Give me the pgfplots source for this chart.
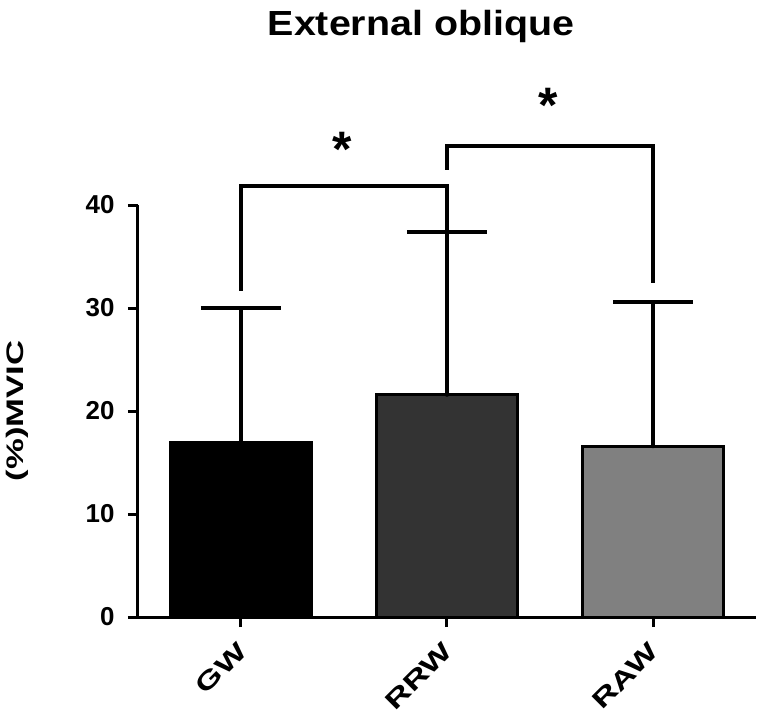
\documentclass[border=0pt]{standalone}
\usepackage{fontspec}
\setmainfont{Liberation Sans}
\newfontfamily\tickfont{Liberation Sans Bold}
\newfontfamily\wideA[FakeStretch=1.4]{Liberation Sans Bold}
\newfontfamily\wideB[FakeStretch=1.45]{Liberation Sans Bold}
\newfontfamily\titlefont[FakeStretch=1.13]{Liberation Sans Bold}
\usepackage{pgfplots}
\pgfplotsset{compat=1.18}
\begin{document}
\begin{tikzpicture}
\begin{axis}[
  scale only axis, width=618bp, height=412bp,
  xmin=-0.5, xmax=2.5, ymin=0, ymax=40,
  axis lines=left, axis line style={-, line width=3bp},
  xtick={0,1,2}, xticklabels={GW,RRW,RAW},
  ytick={0,10,20,30,40},
  tick align=outside, major tick length=10bp,
  tick style={line width=3bp, black},
  xticklabel style={font=\wideA\fontsize{25}{28}\selectfont, rotate=45, anchor=north east, yshift=-3bp, xshift=-10bp},
  yticklabel style={font=\tickfont\fontsize{26}{28}\selectfont, xshift=-10bp},
  /pgf/number format/assume math mode=true,
  clip=false,
]
\path (rel axis cs:-0.2233,-0.2621) rectangle (rel axis cs:1.0081,1.4976);
\addplot[ybar, bar width=0.68, bar shift=0pt, fill=black, draw=black, line width=3bp]
  coordinates {(0,16.9)};
\addplot[ybar, bar width=0.68, bar shift=0pt, fill=black!80, draw=black, line width=3bp]
  coordinates {(1,21.6)};
\addplot[ybar, bar width=0.68, bar shift=0pt, fill=black!50, draw=black, line width=3bp]
  coordinates {(2,16.6)};
\addplot[only marks, mark=none, black,
  error bars/.cd, y dir=plus, y explicit, error mark=|,
  error bar style={line width=4bp, black},
  error mark options={line width=4bp, mark size=40bp, black}]
  coordinates {(0,16.9) +- (0,13.1) (1,21.6) +- (0,15.8) (2,16.6) +- (0,14.0)};
\addplot[black, line width=4bp, mark=none, sharp plot] coordinates {(0,31.7) (0,41.8) (1,41.8) (1,37.4)};
\addplot[black, line width=4bp, mark=none, sharp plot] coordinates {(1,43.4) (1,45.7) (2,45.7) (2,32.4)};
\node[font=\tickfont\fontsize{50}{50}\selectfont, inner sep=0pt] at (axis cs:0.49,45.4) {*};
\node[font=\tickfont\fontsize{50}{50}\selectfont, inner sep=0pt] at (axis cs:1.49,49.7) {*};
\node[font=\titlefont\fontsize{35}{40}\selectfont, anchor=base] at (rel axis cs:0.458,1.4126) {External oblique};
\node[font=\wideB\fontsize{24}{28}\selectfont, rotate=90, anchor=center] at (rel axis cs:-0.196,0.5) {(\%)MVIC};
\end{axis}
\end{tikzpicture}
\end{document}
